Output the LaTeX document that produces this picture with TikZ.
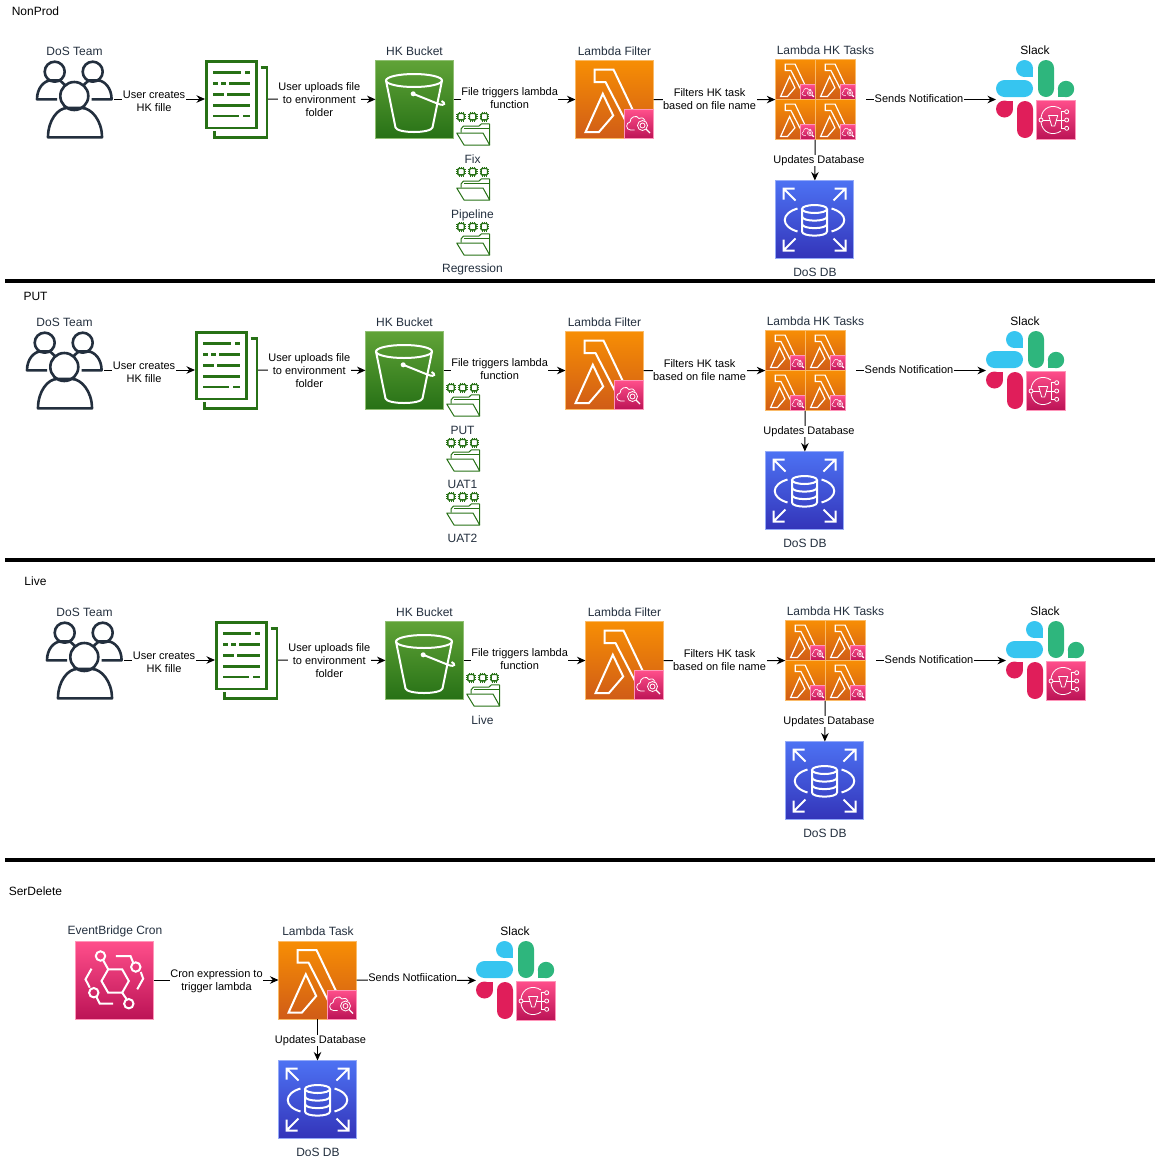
\documentclass[tikz,border=0pt]{standalone}
\usepackage{fontspec}
\setmainfont{Liberation Sans}
\usetikzlibrary{positioning, fit, arrows.meta}

\definecolor{labelink}{HTML}{232F3E}
\definecolor{lambdatop}{HTML}{F78E04}
\definecolor{lambdabot}{HTML}{D05C17}
\definecolor{bucktop}{HTML}{60A337}
\definecolor{buckbot}{HTML}{277116}
\definecolor{dbtop}{HTML}{4D72F3}
\definecolor{dbbot}{HTML}{3334B9}
\definecolor{pinktop}{HTML}{FF4F8B}
\definecolor{pinkbot}{HTML}{BC1356}
\definecolor{slackblue}{HTML}{36C5F0}
\definecolor{slackgreen}{HTML}{2EB67D}
\definecolor{slackred}{HTML}{E01E5A}

\tikzset{
	box/.style={rectangle, anchor=north west, inner sep=0, outer sep=0, minimum width=#1, minimum height=#1},
	lambdabox/.style={box=78pt, top color=lambdatop, bottom color=lambdabot, draw=lambdatop!60!white, line width=0.6pt},
	bucketbox/.style={box=78pt, top color=bucktop, bottom color=buckbot, draw=bucktop!70!white, line width=0.6pt},
	dbbox/.style={box=78pt, top color=dbtop, bottom color=dbbot, draw=dbtop!60!white, line width=0.6pt},
	pinkbox/.style={box=#1, top color=pinktop, bottom color=pinkbot, draw=pinktop!60!white, line width=0.6pt},
	whiteline/.style={draw=white, line width=2pt, line join=miter},
	thinline/.style={draw=white, line width=0.8pt},
	smalltask/.style={scale=0.515, transform shape, whiteline/.style={draw=white, line width=1.2pt}, thinline/.style={draw=white, line width=0.5pt}},
	caption/.style={text=labelink, font=\fontsize{12}{14}\selectfont, inner sep=0, xshift=0.5pt, yshift=-0.5pt},
	plain/.style={text=black, font=\fontsize{12}{14}\selectfont, inner sep=0, yshift=-0.5pt},
	flow/.style={->, line width=1pt},
	flowtext/.style={fill=white, inner sep=0.5pt, align=center, text=black, font=\fontsize{11}{13}\selectfont},
	divider/.style={line width=4pt},
	>={Stealth[length=8.5pt, width=7.5pt]},
	pics/teamicon/.style={code={
		\node[box=78pt] (box) at (0,0) {};
		\begin{scope}[draw=labelink, line width=2.6pt, line join=round]
			\draw (18.7,11.7) circle (10);
			\draw (56.7,11.7) circle (10);
			\draw (38.3,36) circle (14);
			\draw (12,77.3) .. controls (12,60) and (22,48) .. (31,48) -- (46,48) .. controls (55,48) and (66,60) .. (66,77.3) -- cycle;
			\draw (21,39.3) -- (1,39.3) .. controls (1,28) and (8,21) .. (14,20.5) -- (24,20.5) -- (29,25);
			\draw (55.6,39.3) -- (75.6,39.3) .. controls (75.6,28) and (68.6,21) .. (62.6,20.5) -- (52.6,20.5) -- (47.6,25);
		\end{scope}
	}},
	pics/docicon/.style={code={
		\node[box=78pt, minimum width=63pt] (box) at (0,0) {};
		\begin{scope}[draw=buckbot, line width=2.8pt]
			\draw (1.4,1.4) rectangle (51.5,68);
			\draw (55.7,7.7) -- (62,7.7) -- (62,77.4) -- (9.5,77.4) -- (9.5,70.7);
			\draw (8.3,12.7) -- (36,12.7) (40,12.7) -- (45,12.7);
			\draw (8.3,23.3) -- (13,23.3) (16,23.3) -- (21,23.3) (24,23.3) -- (45,23.3);
			\draw (8.3,34.3) -- (19,34.3) (22,34.3) -- (45,34.3);
			\draw (8.3,45.3) -- (45,45.3);
			\draw (8.3,56) -- (34,56) (38,56) -- (45,56);
		\end{scope}
	}},
	pics/bucketicon/.style={code={
		\node[bucketbox] (box) at (0,0) {};
		\draw[whiteline] (38.5,20) ellipse (28 and 6.5);
		\draw[whiteline] (10.5,20) -- (20,67) .. controls (22,73) and (55,73) .. (57,67) -- (66.5,20);
		\fill[white] (37.7,33.3) circle (2.5);
		\draw[whiteline] (37.7,33.3) -- (63,43.5) .. controls (70,46) and (70,42) .. (66,40.5);
	}},
	pics/cloudbadge/.style={code={
		\node[pinkbox=29pt] (box) at (0,0) {};
		\draw[thinline] (10,20.5) -- (6,20.5) .. controls (1,20.5) and (1,13) .. (5.5,12.5) .. controls (5.5,7) and (12.5,5) .. (14.5,9) .. controls (17.5,7.5) and (20.5,9) .. (20.5,11);
		\draw[thinline] (18,16) circle (5);
		\draw[thinline] (18,16) circle (2.5);
		\draw[draw=white, line width=1.2pt] (21.5,19.5) -- (25.5,23.5);
	}},
	pics/lambdaicon/.style={code={
		\node[lambdabox] (box) at (0,0) {};
		\draw[whiteline] (19,9) -- (38,9) -- (68,72) -- (56,72) -- (30,21.5) -- (19,21.5) -- cycle;
		\draw[whiteline] (10,71.7) -- (27.3,33.3) -- (37.7,55) -- (23.3,71.7) -- cycle;
		\pic (badge) at (49,49) {cloudbadge};
	}},
	pics/dbicon/.style={code={
		\node[dbbox] (box) at (0,0) {};
		\foreach \sx/\cx in {1/0, -1/78} {
			\begin{scope}[shift={(\cx,0)}, xscale=\sx]
				\draw[whiteline] (8,19) -- (8,8) -- (19,8) (8,8) -- (20,20);
				\draw[whiteline] (8,59) -- (8,70) -- (19,70) (8,70) -- (20,58);
				\draw[whiteline] (22,28) .. controls (5,33) and (5,46) .. (22,51);
			\end{scope}
		}
		\draw[whiteline] (39,28.5) ellipse (12.5 and 4);
		\draw[whiteline] (26.5,28.5) -- (26.5,51) .. controls (26.5,56.5) and (51.5,56.5) .. (51.5,51) -- (51.5,28.5);
		\draw[whiteline] (26.5,36) .. controls (26.5,41.5) and (51.5,41.5) .. (51.5,36);
		\draw[whiteline] (26.5,43.5) .. controls (26.5,49) and (51.5,49) .. (51.5,43.5);
	}},
	pics/cronicon/.style={code={
		\node[pinkbox=78pt] (box) at (0,0) {};
		\draw[whiteline] (26,40) -- (32.7,28.3) -- (46.7,28.3) -- (53.3,40) -- (46.7,51.7) -- (32.7,51.7) -- cycle;
		\draw[whiteline] (25,15) circle (4.7);
		\draw[whiteline] (60.3,26) circle (4.7);
		\draw[whiteline] (18.3,51.7) circle (4.7);
		\draw[whiteline] (53.3,62.7) circle (4.7);
		\draw[whiteline] (27.7,19.3) -- (32.7,28.3);
		\draw[whiteline] (46.7,51.7) -- (51,58);
		\draw[whiteline] (40.3,15) -- (55,15) -- (57.7,21.7);
		\draw[whiteline] (65.3,31) -- (67.7,37.7) -- (61.7,48.3);
		\draw[whiteline] (37.7,62.7) -- (24.3,62.7) -- (21,56);
		\draw[whiteline] (16,27.7) -- (10,38.3) -- (14.3,46.7);
	}},
	pics/slackicon/.style={code={
		\node[box=79pt] (box) at (0,0) {};
		\fill[slackblue] (28.5,8.5) circle (8.5);
		\fill[slackblue] (28.5,8.5) rectangle (37,17);
		\fill[slackblue, rounded corners=8.5pt] (0,20) rectangle (37,37);
		\fill[slackgreen, rounded corners=8pt] (42,0) rectangle (58,37);
		\fill[slackgreen] (70,29) circle (8.2);
		\fill[slackgreen] (61.8,29) rectangle (70,37.2);
		\fill[slackred] (8.5,49) circle (8.5);
		\fill[slackred] (8.5,41) rectangle (17,49);
		\fill[slackred, rounded corners=8pt] (21,41) rectangle (37,78);
		\node[pinkbox=39pt] (badge) at (40,40) {};
		\begin{scope}[shift={(40,40)}]
			\draw[thinline] (25,9) .. controls (17,3.5) and (6,7) .. (5,18);
			\draw[thinline] (5,22) .. controls (6,33) and (17,36.5) .. (25,31);
			\draw[thinline] (5,20) circle (2);
			\draw[thinline] (30.7,11.7) circle (2);
			\draw[thinline] (30.7,20) circle (2);
			\draw[thinline] (30.7,28.3) circle (2);
			\draw[thinline] (25,20) -- (28.7,20) (28.7,11.7) -- (25,11.7) -- (25,28.3) -- (28.7,28.3);
			\draw[thinline] (12.7,15.5) -- (21.7,15.5) -- (18.7,26) -- (15.7,26) -- cycle;
			\draw[thinline] (7,20) -- (14,20) (20,20) -- (25,20);
		\end{scope}
	}},
	pics/chip/.style={code={
		\draw[draw=buckbot, line width=1.4pt, rounded corners=1pt] (-3.2,-3.2) rectangle (3.2,3.2);
		\foreach \t in {-2,0,2} {
			\draw[draw=buckbot, line width=0.6pt] (\t,-4.8) -- (\t,-3.2) (\t,3.2) -- (\t,4.8) (-4.8,\t) -- (-3.2,\t) (3.2,\t) -- (4.8,\t);
		}
	}},
	pics/foldericon/.style={code={
		\node[box=35pt] (box) at (0,0) {};
		\pic at (5,6.7) {chip};
		\pic at (16.7,6.7) {chip};
		\pic at (28.3,6.7) {chip};
		\begin{scope}[draw=buckbot, line width=1pt, line join=round]
			\draw (5,22.5) -- (5,19) -- (7.5,16) -- (23,16) -- (25.5,13.8) -- (33.7,14) -- (33.7,35);
			\draw (8,18.5) -- (33.7,18.5);
			\draw (0.7,23) -- (27,23) -- (33.7,35) -- (8,35) -- cycle;
		\end{scope}
	}}
}

\begin{document}
\begin{tikzpicture}[x=1pt, y=-1pt]
	\useasboundingbox (0,0) rectangle (1159,1160);

	% the three environment rows only differ by an offset
	\foreach \rowname/\dx/\dy in {np/0/0, put/-10/271, live/10/561} {
		\begin{scope}[shift={(\dx,\dy)}]
			\pic (\rowname team) at (36,60) {teamicon};
			\pic (\rowname doc) at (205,60) {docicon};
			\pic (\rowname bucket) at (375.5,60.5) {bucketicon};
			\pic (\rowname filter) at (575.5,60.5) {lambdaicon};
			\pic[smalltask] (\rowname taska) at (775.5,59.5) {lambdaicon};
			\pic[smalltask] (\rowname taskb) at (815.5,59.5) {lambdaicon};
			\pic[smalltask] (\rowname taskc) at (775.5,99.5) {lambdaicon};
			\pic[smalltask] (\rowname taskd) at (815.5,99.5) {lambdaicon};
			\node[fit=(\rowname taskabox)(\rowname taskdbox), inner sep=0] (\rowname tasks) {};
			\pic (\rowname db) at (775.5,180.5) {dbicon};
			\pic (\rowname slack) at (996,60) {slackicon};
			\coordinate (\rowname notify) at (866,99.5);

			\node[caption] (\rowname teamtext) at (74,51) {DoS Team};
			\node[caption] (\rowname buckettext) at (414,51) {HK Bucket};
			\node[caption] (\rowname filtertext) at (614,51) {Lambda Filter};
			\node[caption] (\rowname taskstext) at (825,50) {Lambda HK Tasks};
			\node[plain] (\rowname slacktext) at (1035,50) {Slack};
			\node[caption] (\rowname dbtext) at (814.5,272) {DoS DB};

			\draw [flow] (\rowname teambox) to node [flowtext, pos=0.44, yshift=-2pt] {User creates\\HK fille} (\rowname docbox);
			\draw [flow] (\rowname docbox) to node [flowtext, pos=0.477] {User uploads file\\to environment\\folder} (\rowname bucketbox);
			\draw [flow] (\rowname bucketbox) to node [flowtext, pos=0.46, yshift=1pt] {File triggers lambda\\function} (\rowname filterbox);
			\draw [flow] (\rowname filterbox) to node [flowtext, pos=0.46] {Filters HK task\\based on file name} (\rowname tasks);
			\draw [flow] (\rowname notify) to node [flowtext, pos=0.408, yshift=1pt] {Sends Notification} (\rowname slackbox.west |- \rowname notify);
			\draw [flow] (\rowname tasks) to node [flowtext, xshift=4pt] {Updates Database} (\rowname dbbox);
		\end{scope}
	}

	% folders
	\pic (npfix) at (456,110) {foldericon};
	\node[caption] (npfixtext) at (472,159) {Fix};
	\pic (nppipe) at (456,165) {foldericon};
	\node[caption] (nppipetext) at (472,214.5) {Pipeline};
	\pic (npreg) at (456,220) {foldericon};
	\node[caption] (npregtext) at (472,268.5) {Regression};

	\pic (putput) at (446,381) {foldericon};
	\node[caption] (putputtext) at (462,430) {PUT};
	\pic (putuata) at (446,436) {foldericon};
	\node[caption] (putuatatext) at (462,484) {UAT1};
	\pic (putuatb) at (446,490) {foldericon};
	\node[caption] (putuatbtext) at (462,538) {UAT2};

	\pic (livefolder) at (466,671) {foldericon};
	\node[caption] (livefoldertext) at (482,719.5) {Live};

	% section titles and dividers
	\node[plain] (nptitle) at (35.5,10.5) {NonProd};
	\node[plain] (puttitle) at (35.5,295.5) {PUT};
	\node[plain] (livetitle) at (35.5,580.5) {Live};
	\node[plain] (deltitle) at (35.5,890.5) {SerDelete};
	\coordinate (diva) at (5,281);
	\coordinate (divb) at (5,560);
	\coordinate (divc) at (5,860);
	\draw[divider] (diva) -- ++(1150,0);
	\draw[divider] (divb) -- ++(1150,0);
	\draw[divider] (divc) -- ++(1150,0);

	% delete row
	\pic (cron) at (75.5,941) {cronicon};
	\pic (deltask) at (278.5,941) {lambdaicon};
	\pic (delslack) at (476,941) {slackicon};
	\pic (deldb) at (278.5,1060.5) {dbicon};
	\node[caption] (crontext) at (114.5,930.5) {EventBridge Cron};
	\node[caption] (deltasktext) at (317.5,930.5) {Lambda Task};
	\node[plain] (delslacktext) at (515,931) {Slack};
	\node[caption] (deldbtext) at (317.5,1151.5) {DoS DB};
	\draw [flow] (cronbox) to node [flowtext, pos=0.504, yshift=-1pt] {Cron expression to\\trigger lambda} (deltaskbox);
	\draw [flow] (deltaskbox) to node [flowtext, pos=0.47, yshift=2.5pt] {Sends Notfiication} (delslackbox);
	\draw [flow] (deltaskbox) to node [flowtext, xshift=3pt, yshift=-1pt] {Updates Database} (deldbbox);
\end{tikzpicture}
\end{document}
